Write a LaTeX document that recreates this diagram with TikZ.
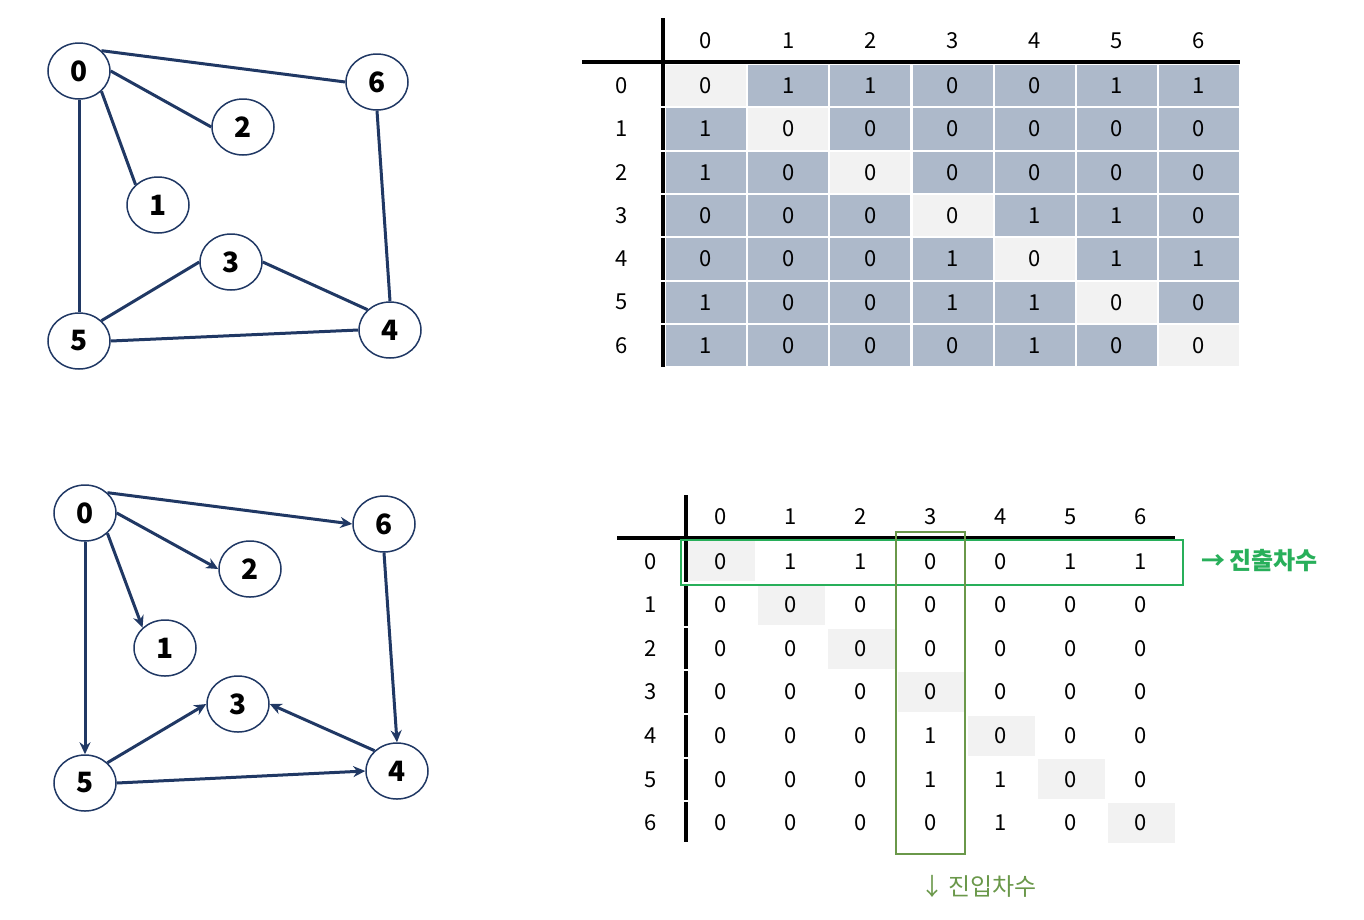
\documentclass[tikz,border=0pt]{standalone}
\usepackage{fontspec}
\setmainfont{Noto Sans CJK KR}
\usetikzlibrary{arrows.meta,shapes.geometric}
\definecolor{navy}{RGB}{32,56,100}
\definecolor{cellblue}{RGB}{173,185,202}
\definecolor{cellgrey}{RGB}{242,242,242}
\definecolor{rowgreen}{RGB}{40,175,90}
\definecolor{colgreen}{RGB}{106,152,74}
\begin{document}
\begin{tikzpicture}[x=1pt,y=-1pt,
  vtx/.style={ellipse,draw=navy,line width=1.5pt,minimum width=62pt,minimum height=56pt,inner sep=0pt,font=\bfseries\fontsize{28}{28}\selectfont},
  gline/.style={draw=navy,line width=3pt},
  garrow/.style={gline,-{Stealth[length=12pt,width=11pt]}},
  num/.style={font=\fontsize{22}{22}\selectfont,inner sep=0pt},
  cellbox/.style={num,minimum width=80pt,minimum height=41.3pt},
  cellsmall/.style={num,minimum width=67pt,minimum height=40pt},
  axis/.style={line width=4pt,black}]
\useasboundingbox (0,0) rectangle (1364,919);

% ---------- top undirected graph ----------
\node[vtx] (a0) at (79,71) {0};
\node[vtx] (a6) at (377,82) {6};
\node[vtx] (a2) at (243,127) {2};
\node[vtx] (a1) at (158,205) {1};
\node[vtx] (a3) at (231,262) {3};
\node[vtx] (a4) at (390,330) {4};
\node[vtx] (a5) at (79,341) {5};
\draw[gline] (a0.north east) -- (a6.west);
\draw[gline] (a0.east) -- (a2.west);
\draw[gline] (a0.south east) -- (a1.north west);
\draw[gline] (a0.south) -- (a5.north);
\draw[gline] (a6.south) -- (a4.north);
\draw[gline] (a3.east) -- (a4.north west);
\draw[gline] (a3.west) -- (a5.north east);
\draw[gline] (a5.east) -- (a4.west);

% ---------- bottom directed graph ----------
\node[vtx] (b0) at (85,513) {0};
\node[vtx] (b6) at (384,524) {6};
\node[vtx] (b2) at (250,569) {2};
\node[vtx] (b1) at (165,648) {1};
\node[vtx] (b3) at (238,704) {3};
\node[vtx] (b4) at (397,771) {4};
\node[vtx] (b5) at (85,783) {5};
\draw[garrow] (b0.north east) -- (b6.west);
\draw[garrow] (b0.east) -- (b2.west);
\draw[garrow] (b0.south east) -- (b1.north west);
\draw[garrow] (b0.south) -- (b5.north);
\draw[garrow] (b6.south) -- (b4.north);
\draw[garrow] (b4.north west) -- (b3.east);
\draw[garrow] (b5.north east) -- (b3.west);
\draw[garrow] (b5.east) -- (b4.west);

% ---------- top matrix ----------
\foreach \r/\row in {0/{0,1,1,0,0,1,1},1/{1,0,0,0,0,0,0},2/{1,0,0,0,0,0,0},3/{0,0,0,0,1,1,0},4/{0,0,0,1,0,1,1},5/{1,0,0,1,1,0,0},6/{1,0,0,0,1,0,0}}{
  \foreach \v [count=\c from 0] in \row {
    \ifnum\r=\c \def\cf{cellgrey}\else\def\cf{cellblue}\fi
    \node[cellbox,fill=\cf] (t-\r-\c) at ({665+82.14*(\c+0.5)},{64+43.3*(\r+0.5)}) {\v};
  }
  \node[num] (tr-\r) at (622,{64+43.3*(\r+0.5)}) {\r};
  \node[num] (tc-\r) at ({665+82.14*(\r+0.5)},41) {\r};
}
\draw[axis] (582,62) -- (1240,62);
\draw[axis] (663,18) -- (663,367);
\foreach \r in {1,...,6}{
  \fill[white] (660,{64+43.3*\r-1}) rectangle (667,{64+43.3*\r+1});
}

% ---------- bottom matrix ----------
\foreach \r/\row in {0/{0,1,1,0,0,1,1},1/{0,0,0,0,0,0,0},2/{0,0,0,0,0,0,0},3/{0,0,0,0,0,0,0},4/{0,0,0,1,0,0,0},5/{0,0,0,1,1,0,0},6/{0,0,0,0,1,0,0}}{
  \foreach \v [count=\c from 0] in \row {
    \ifnum\r=\c \def\cf{cellgrey}\else\def\cf{white}\fi
    \node[cellsmall,fill=\cf] (m-\r-\c) at ({686+70*(\c+0.5)},{539.5+43.6*(\r+0.5)}) {\v};
  }
  \node[num] (mr-\r) at (651,{539.5+43.6*(\r+0.5)}) {\r};
  \node[num] (mc-\r) at ({686+70*(\r+0.5)},517) {\r};
}
\draw[axis] (617,538) -- (1175,538);
\draw[axis] (686,495) -- (686,842);
\foreach \r in {1,...,6}{
  \fill[white] (683,{539.5+43.6*\r-1}) rectangle (690,{539.5+43.6*\r+1});
}

% highlight boxes
\draw[rowgreen,line width=1.6pt] (681,540) rectangle (1183,585);
\draw[colgreen,line width=1.6pt] (896,532) rectangle (965,854);
\node[text=rowgreen,font=\bfseries\fontsize{24}{24}\selectfont,anchor=west,inner sep=0pt] (outdeg) at (1201,561) {→\,진출차수};
\node[text=colgreen,font=\fontsize{24}{24}\selectfont,anchor=west,inner sep=0pt] (indeg) at (920,886) {↓\,진입차수};
\end{tikzpicture}
\end{document}
